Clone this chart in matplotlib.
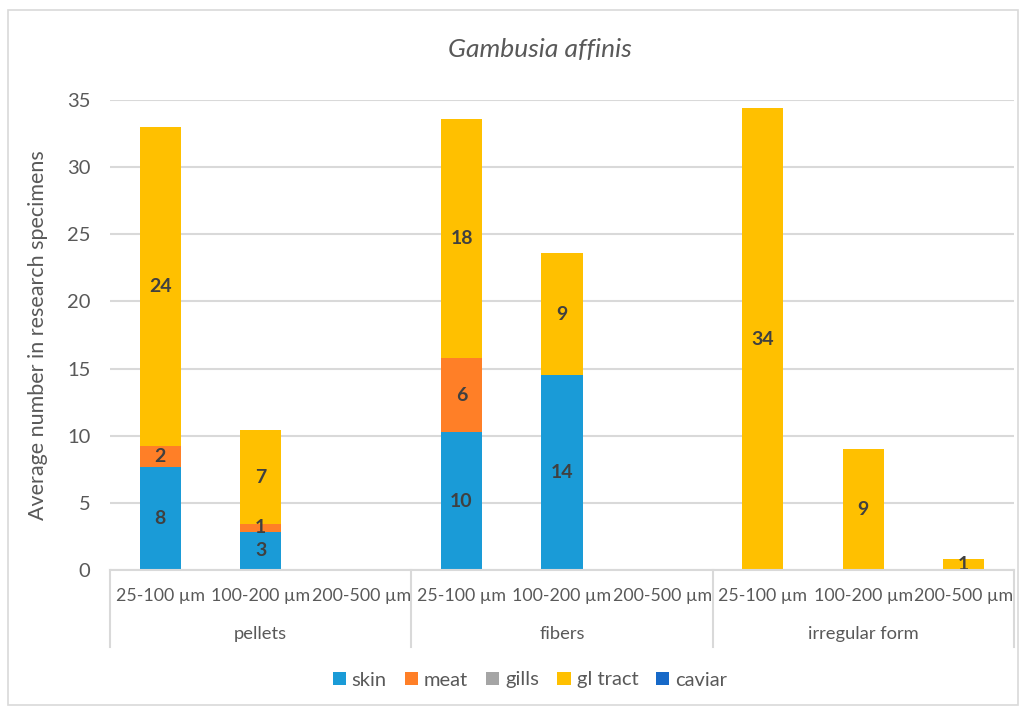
import matplotlib.pyplot as plt
import numpy as np
from matplotlib.patches import Rectangle

plt.rcParams['font.family'] = ['Lato', 'DejaVu Sans']

# data
groups = ["pellets", "fibers", "irregular form"]
sizes = ["25-100 µm", "100-200 µm", "200-500 µm"]
series = ["skin", "meat", "gills", "gl tract", "caviar"]
skin = [7.65, 2.85, 0, 10.27, 14.5, 0, 0, 0, 0]
meat = [1.6, 0.6, 0, 5.5, 0, 0, 0, 0, 0]
gills = [0, 0, 0, 0, 0, 0, 0, 0, 0]
gl_tract = [23.75, 6.95, 0, 17.8, 9.1, 0, 34.4, 9.0, 0.84]
caviar = [0, 0, 0, 0, 0, 0, 0, 0, 0]
colors = ["#1A9BD7", "#FF7F27", "#A5A5A5", "#FFC000", "#1769C8"]

txt = "#595959"
fig = plt.figure(figsize=(10.27, 7.10), dpi=100)
fig.patches.append(Rectangle((8/1027, 5/710), 1010/1027, 695/710, transform=fig.transFigure,
                             fill=False, edgecolor="#D9D9D9", lw=1.2))
ax = fig.add_axes([110/1027, 1-570/710, 904/1027, 470/710])

x = np.arange(len(skin))
bottom = np.zeros(len(x))
for name, vals, c in zip(series, [skin, meat, gills, gl_tract, caviar], colors):
    vals = np.array(vals, dtype=float)
    ax.bar(x, vals, 0.41, bottom=bottom, color=c, label=name, zorder=3)
    for xi, v, b in zip(x, vals, bottom):
        if v > 0:
            ax.text(xi, b + v/2, f"{v:.0f}", ha="center", va="center",
                    fontsize=14, fontweight="bold", color="#404040", zorder=4)
    bottom += vals

ax.set_xlim(-0.5, len(x) - 0.5)
ax.set_ylim(0, 35)
ax.set_yticks(range(0, 36, 5))
ax.tick_params(axis="y", length=0, labelsize=14.5, labelcolor=txt, pad=14)
ax.yaxis.grid(True, color="#D9D9D9", lw=1.5, zorder=0)
ax.set_xticks([])
for s in ["top", "right", "left"]:
    ax.spines[s].set_visible(False)
ax.spines["bottom"].set_color("#D9D9D9")
ax.spines["bottom"].set_linewidth(1.5)
ax.spines["bottom"].set_zorder(5)
ax.set_ylabel("Average number in research specimens", fontsize=15.5, color=txt, labelpad=14)

# multi-level category axis
tr = ax.get_xaxis_transform()
for sep in [-0.5, 2.5, 5.5, 8.5]:
    ax.plot([sep, sep], [0, -0.164], color="#D9D9D9", lw=1.5, transform=tr, clip_on=False)
for gi, g in enumerate(groups):
    for si, s in enumerate(sizes):
        ax.text(gi*3 + si, -0.055, s, transform=tr, ha="center", va="center",
                fontsize=12.8, color=txt)
    ax.text(gi*3 + 1, -0.136, g, transform=tr, ha="center", va="center",
            fontsize=13.2, color=txt)

fig.text(540/1027, 1-50/710, "Gambusia affinis", ha="center", va="center",
         fontsize=19, style="italic", color=txt)

fig.legend(loc="center", bbox_to_anchor=(530/1027, 1-680/710), ncol=5, frameon=False,
           fontsize=14.5, labelcolor=txt, handlelength=0.65, handleheight=0.65,
           handletextpad=0.3, columnspacing=0.9)

fig.savefig("out.png", dpi=100)
